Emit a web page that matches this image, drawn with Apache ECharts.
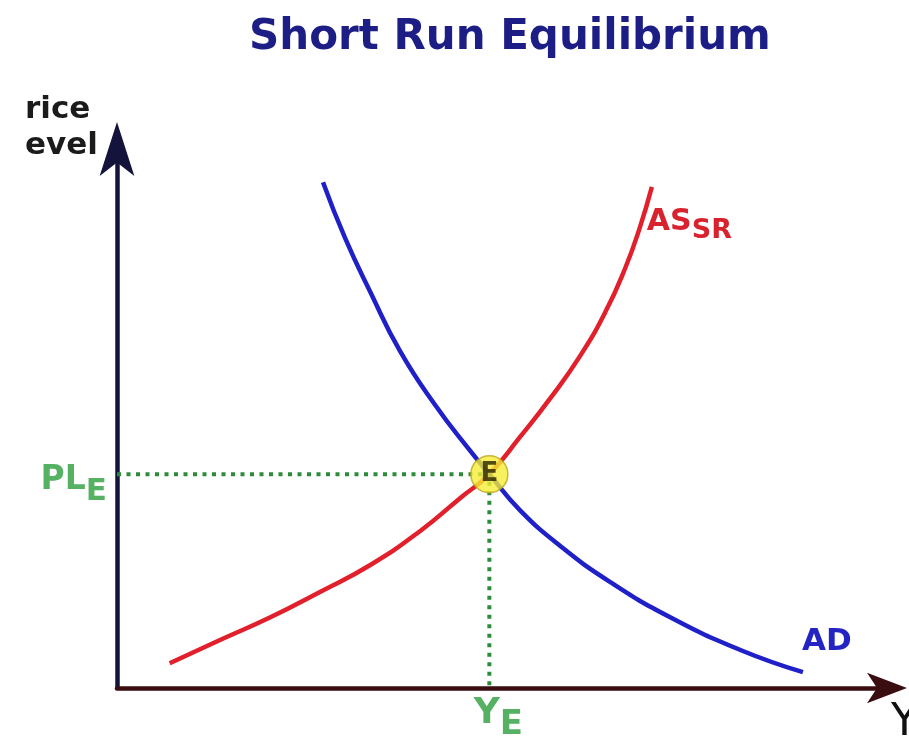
<!DOCTYPE html>
<html>
<head>
<meta charset="utf-8">
<script src="https://cdn.jsdelivr.net/npm/echarts@6/dist/echarts.min.js"></script>
<style>
  html, body { margin: 0; padding: 0; background: #ffffff; }
  #chart { width: 909px; height: 746px; }
</style>
</head>
<body>
<div id="chart"></div>
<script>
// Aggregate demand / short-run aggregate supply diagram (output on x, price level on y)
const chartTitle = 'Short Run Equilibrium';
const yAxisName = 'rice\nevel';
const xAxisName = 'Y';

// Aggregate demand: downward sloping, convex
const adCurve = [
  [27.0, 95.8], [29.9, 85.2], [33.2, 75.0], [37.1, 63.8], [41.7, 53.6],
  [46.3, 44.9], [48.8, 40.5], [52.8, 33.7], [58.1, 26.9], [64.6, 20.1],
  [72.5, 13.4], [81.7, 7.2], [89.9, 3.0]
];

// Short-run aggregate supply: upward sloping, getting steeper
const asCurve = [
  [6.9, 4.7], [13.5, 9.1], [20.1, 13.4], [26.6, 18.2], [33.2, 23.3],
  [39.7, 29.7], [45.0, 36.0], [48.8, 40.5], [52.8, 47.5], [56.7, 54.7],
  [60.7, 62.9], [64.0, 71.2], [66.6, 79.5], [68.5, 87.1], [70.1, 94.9]
];

// Equilibrium output and price level
const equilibrium = [48.8, 40.5];

const FONT = 'DejaVu Sans';
const DOT_GREEN = '#2c8c3c';
const TEXT_GREEN = '#2c9e3c';

const chart = echarts.init(document.getElementById('chart'), null, { renderer: 'canvas' });

const guidePath = [
  [0, equilibrium[1]],
  [equilibrium[0], equilibrium[1]],
  [equilibrium[0], 0]
];

const option = {
  backgroundColor: '#ffffff',
  animation: false,
  title: {
    text: chartTitle,
    left: 244,
    top: 12,
    textStyle: { fontFamily: FONT, fontSize: 42, fontWeight: 'bold', color: '#1d1d86' }
  },
  grid: { left: 117, right: 29, top: 160, bottom: 58 },
  xAxis: {
    type: 'value', min: 0, max: 100,
    axisLine: {
      show: true,
      lineStyle: { color: '#3a0d10', width: 4.5 },
      symbol: ['none', 'arrow'],
      symbolSize: [23, 40],
      symbolOffset: [0, 27]
    },
    axisTick: { show: false }, axisLabel: { show: false }, splitLine: { show: false }
  },
  yAxis: {
    type: 'value', min: 0, max: 100,
    axisLine: {
      show: true,
      lineStyle: { color: '#13133c', width: 4.5 },
      symbol: ['none', 'arrow'],
      symbolSize: [26, 54],
      symbolOffset: [0, 38]
    },
    axisTick: { show: false }, axisLabel: { show: false }, splitLine: { show: false }
  },
  graphic: [
    {
      type: 'text', left: 25, top: 92, z: 10,
      style: { text: yAxisName, font: 'bold 31px "DejaVu Sans"', fill: '#1b1b1b', lineHeight: 36 }
    },
    {
      type: 'text', left: 891, top: 702, z: 10,
      style: { text: xAxisName, font: '44px "DejaVu Sans"', fill: '#111111' }
    }
  ],
  series: [
    {
      name: 'guides', type: 'line', data: guidePath, symbol: 'none', z: 3,
      lineStyle: { color: DOT_GREEN, width: 4, type: [4, 5.5], cap: 'butt' },
      silent: true
    },
    {
      name: 'AS', type: 'line', data: asCurve, symbol: 'none', smooth: 0.5, z: 4,
      lineStyle: { color: '#e2202c', width: 4.5 },
      endLabel: {
        show: true, offset: [-13, 40],
        formatter: '{a|AS}{b|SR}',
        rich: {
          a: { fontFamily: FONT, fontSize: 30, fontWeight: 'bold', color: '#d8222e', verticalAlign: 'bottom', lineHeight: 36, padding: [0, 0, 8, 0] },
          b: { fontFamily: FONT, fontSize: 27, fontWeight: 'bold', color: '#d8222e', verticalAlign: 'bottom', lineHeight: 32 }
        }
      }
    },
    {
      name: 'AD', type: 'line', data: adCurve, symbol: 'none', smooth: 0.5, z: 4,
      lineStyle: { color: '#2020c8', width: 4.5 },
      endLabel: {
        show: true, offset: [-9, -30],
        formatter: 'AD',
        fontFamily: FONT, fontSize: 31, fontWeight: 'bold', color: '#2424c4'
      }
    },
    {
      name: 'E', type: 'scatter', data: [equilibrium], z: 6,
      symbol: 'circle', symbolSize: 37,
      itemStyle: { color: '#f4ee34', borderColor: '#b9a41c', borderWidth: 1.5 },
      label: {
        show: true, position: 'inside', formatter: 'E',
        fontFamily: FONT, fontSize: 26, fontWeight: 'bold', color: '#2a2300'
      }
    },
    {
      name: 'PLE', type: 'scatter', data: [[0, equilibrium[1]]], symbolSize: 0, z: 5,
      label: {
        show: true, position: 'left', distance: 10, offset: [0, 13],
        formatter: '{a|PL}{b|E}',
        rich: {
          a: { fontFamily: FONT, fontSize: 33, fontWeight: 'bold', color: TEXT_GREEN, verticalAlign: 'bottom', lineHeight: 40, padding: [0, 0, 10, 0] },
          b: { fontFamily: FONT, fontSize: 31, fontWeight: 'bold', color: TEXT_GREEN, verticalAlign: 'bottom', lineHeight: 36 }
        }
      }
    },
    {
      name: 'YE', type: 'scatter', data: [[equilibrium[0], 0]], symbolSize: 0, z: 5,
      label: {
        show: true, position: 'bottom', distance: 4, offset: [9, 10],
        formatter: '{a|Y}{b|E}',
        rich: {
          a: { fontFamily: FONT, fontSize: 36, fontWeight: 'bold', color: TEXT_GREEN, verticalAlign: 'bottom', lineHeight: 40, padding: [0, 0, 10, 0] },
          b: { fontFamily: FONT, fontSize: 34, fontWeight: 'bold', color: TEXT_GREEN, verticalAlign: 'bottom', lineHeight: 38 }
        }
      }
    }
  ]
};

chart.setOption(option);
</script>
</body>
</html>
